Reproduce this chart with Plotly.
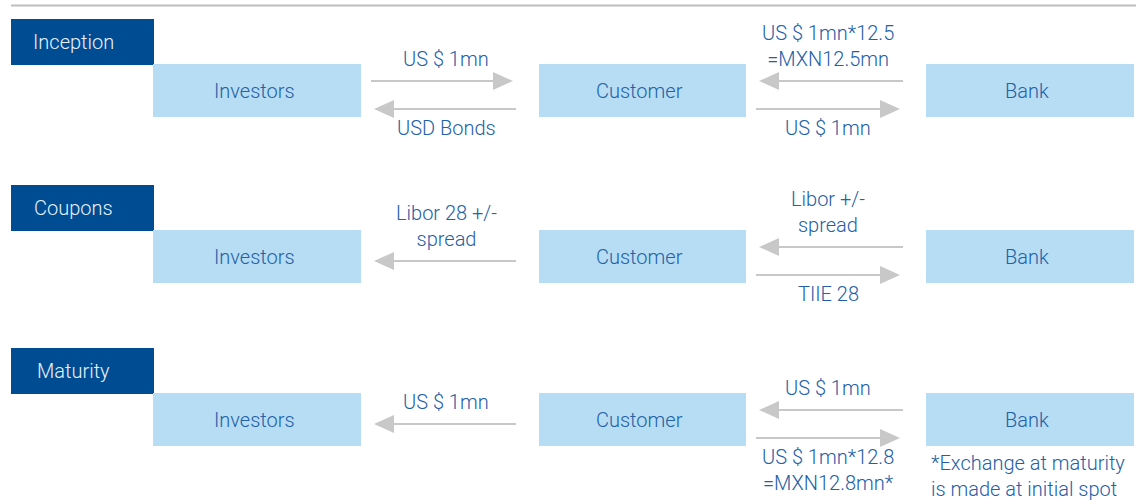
import plotly.graph_objects as go

# ---- data ----
stages = ["Inception", "Coupons", "Maturity"]
entities = ["Investors", "Customer", "Bank"]
# flows between Investors<->Customer (left pair) and Customer<->Bank (right pair)
# each: (direction, label, position) direction: "R" = to right, "L" = to left
left_flows = [
    [("R", "US $ 1mn", "above"), ("L", "USD Bonds", "below")],
    [("L", "Libor 28 +/-<br>spread", "above")],
    [("L", "US $ 1mn", "above")],
]
right_flows = [
    [("L", "US $ 1mn*12.5<br>=MXN12.5mn", "above"), ("R", "US $ 1mn", "below")],
    [("L", "Libor +/-<br>spread", "above"), ("R", "TIIE 28", "below")],
    [("L", "US $ 1mn", "above"), ("R", "US $ 1mn*12.8<br>=MXN12.8mn*", "below")],
]
footnote = "*Exchange at maturity<br>is made at initial spot"

# ---- style / layout constants ----
W, H = 1147, 504
DARK = "#004C93"
LIGHT = "#B6DDF3"
TXT = "#2360A6"
ARROW = "#C8C8C8"
FONT = "Roboto"
FS = 20

box_x = [(153, 361), (539, 746), (926, 1134)]
row_top = [64, 230, 393]
box_h = 53
hdr_x = (11, 154)
hdr_h = 46

fig = go.Figure()
shapes = []
annotations = []

def txt(x, y, s, color=TXT, size=FS, xanchor="center", yanchor="middle", align="center", weight=300):
    annotations.append(dict(x=x, y=y, xref="x", yref="y", text=s, showarrow=False,
                            font=dict(family=FONT, size=size, color=color, weight=weight),
                            xanchor=xanchor, yanchor=yanchor, align=align))

def arrow(x_tail, x_tip, y):
    d = 1 if x_tip > x_tail else -1
    head_len, hw = 20, 9
    base = x_tip - d * head_len
    shapes.append(dict(type="line", x0=x_tail, x1=base, y0=y, y1=y, xref="x", yref="y",
                       line=dict(color=ARROW, width=2)))
    shapes.append(dict(type="path", xref="x", yref="y",
                       path=f"M {x_tip},{y} L {base},{y - hw} L {base},{y + hw} Z",
                       fillcolor=ARROW, line=dict(width=0)))

# top rule
shapes.append(dict(type="line", x0=11, x1=1136, y0=5.5, y1=5.5, xref="x", yref="y",
                   line=dict(color="#BDBDBD", width=2)))

for i, stage in enumerate(stages):
    top = row_top[i]
    # header
    shapes.append(dict(type="rect", x0=hdr_x[0], x1=hdr_x[1], y0=top - hdr_h + 1, y1=top + 1,
                       xref="x", yref="y", fillcolor=DARK, line=dict(width=0)))
    txt(73, top - hdr_h / 2 + 0.5, stage, color="#E8F1FA")
    # entity boxes
    for j, ent in enumerate(entities):
        x0, x1 = box_x[j]
        shapes.append(dict(type="rect", x0=x0, x1=x1, y0=top, y1=top + box_h,
                           xref="x", yref="y", fillcolor=LIGHT, line=dict(width=0)))
        txt((x0 + x1) / 2 - 3, top + box_h / 2, ent)

    for flows, (gx0, gx1), cx in ((left_flows[i], (box_x[0][1], box_x[1][0]), 446),
                                  (right_flows[i], (box_x[1][1], box_x[2][0]), 828)):
        single = len(flows) == 1
        for d, label, pos in flows:
            if single:
                ay = top + 31
            else:
                ay = top + 17 if pos == "above" else top + 45
            if d == "R":
                arrow(gx0 + 10, gx1 - 26, ay)
            else:
                arrow(gx1 - 23, gx0 + 13, ay)
            if pos == "above":
                txt(cx, ay - 8, label, yanchor="bottom")
            else:
                txt(cx, ay + 5, label, yanchor="top")

# footnote
txt(929, row_top[2] + box_h + 3, footnote, xanchor="left", yanchor="top", align="left")

fig.update_layout(
    width=W, height=H, margin=dict(l=0, r=0, t=0, b=0),
    paper_bgcolor="white", plot_bgcolor="white",
    xaxis=dict(range=[0, W], visible=False, fixedrange=True),
    yaxis=dict(range=[H, 0], visible=False, fixedrange=True),
    shapes=shapes, annotations=annotations, showlegend=False,
)
fig.write_html("out.html", config={"displayModeBar": False},
               post_script="document.body.style.margin='0';document.body.style.overflow='hidden';")
